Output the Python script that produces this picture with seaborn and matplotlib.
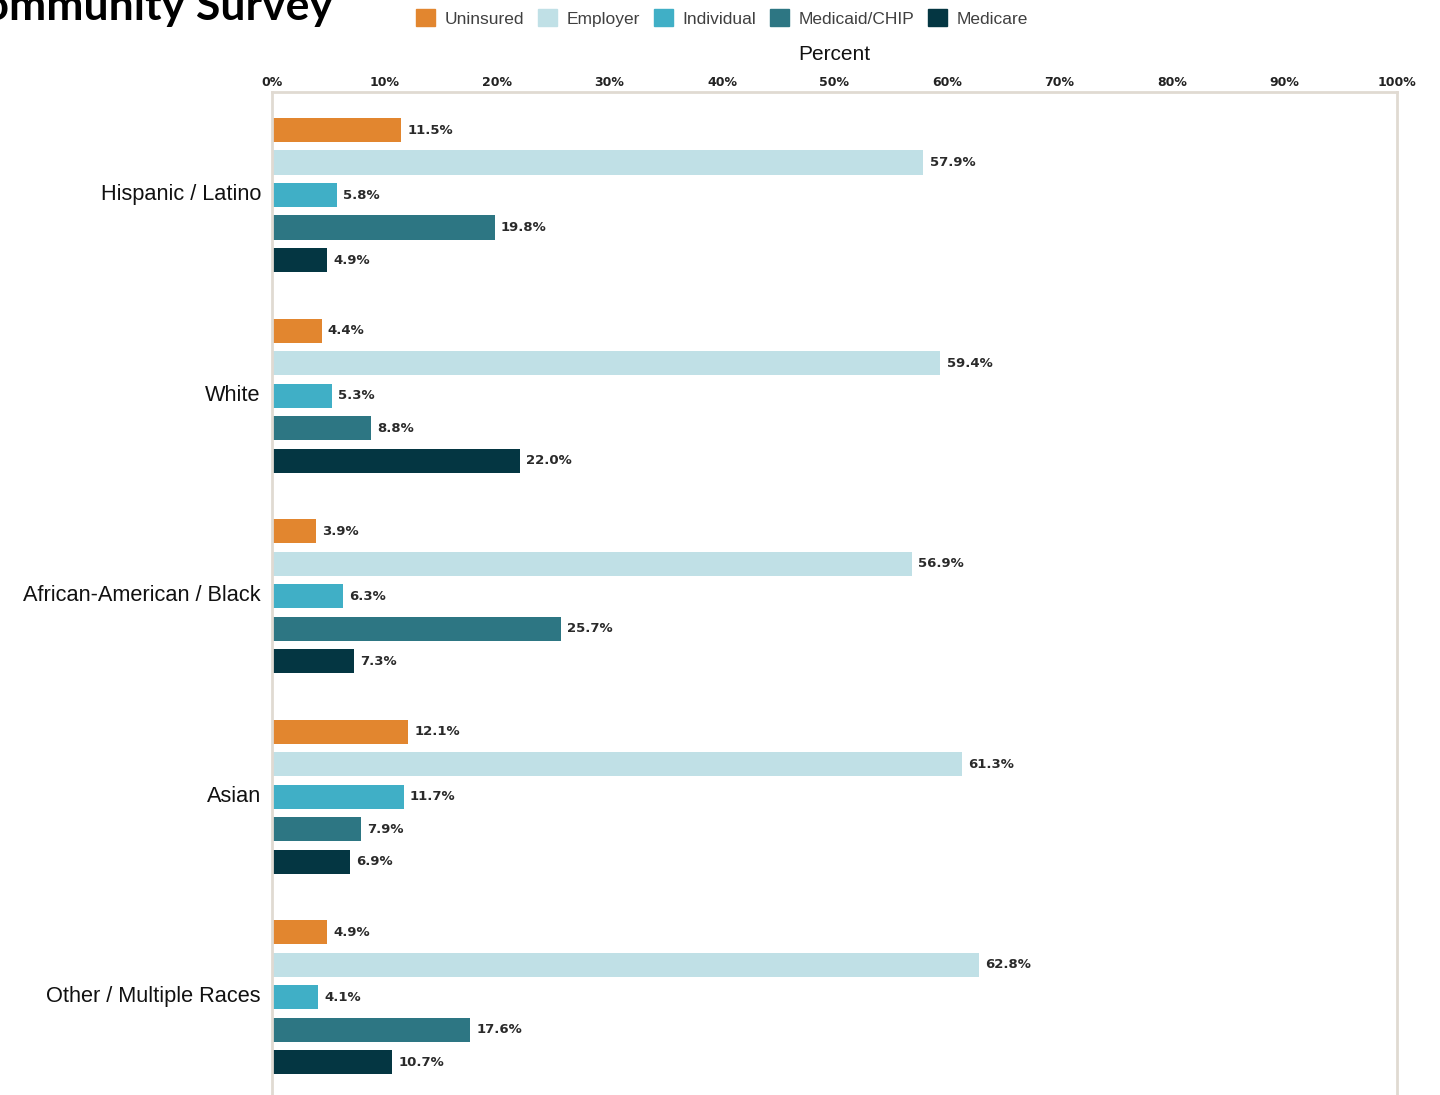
import matplotlib
matplotlib.use("Agg")
import matplotlib.pyplot as plt
import matplotlib.transforms as mtransforms
from matplotlib.patches import Patch
import seaborn as sns
import pandas as pd

# Coverage share by race / ethnicity (percent)
groups = ["Hispanic / Latino", "White", "African-American / Black", "Asian", "Other / Multiple Races"]
coverage_types = ["Uninsured", "Employer", "Individual", "Medicaid/CHIP", "Medicare"]
uninsured = [11.5, 4.4, 3.9, 12.1, 4.9]
employer = [57.9, 59.4, 56.9, 61.3, 62.8]
individual = [5.8, 5.3, 6.3, 11.7, 4.1]
medicaid_chip = [19.8, 8.8, 25.7, 7.9, 17.6]
medicare = [4.9, 22.0, 7.3, 6.9, 10.7]
tick_values = [0, 10, 20, 30, 40, 50, 60, 70, 80, 90, 100]
tick_labels = [f"{t}%" for t in tick_values]

colors = ["#E2862F", "#C0E0E6", "#40AFC6", "#2D7683", "#043642"]

series = [uninsured, employer, individual, medicaid_chip, medicare]
rows = []
for ctype, vals in zip(coverage_types, series):
    for g, v in zip(groups, vals):
        rows.append({"Group": g, "Coverage": ctype, "Percent": v})
df = pd.DataFrame(rows)

sns.set_theme(style="white")
plt.rcParams["font.family"] = ["Liberation Sans", "DejaVu Sans"]

fig = plt.figure(figsize=(14.4, 10.95), dpi=100)
ax = fig.add_axes([272 / 1440, 0.0, (1397 - 272) / 1440, 1 - 92 / 1095])

sns.barplot(
    data=df, y="Group", x="Percent", hue="Coverage",
    order=groups, hue_order=coverage_types, palette=colors,
    orient="h", width=0.81, gap=0.26, dodge=True, ax=ax,
    legend=False, saturation=1, linewidth=0,
)

for cont in ax.containers:
    ax.bar_label(cont, fmt="{:.1f}%", padding=4.5, fontsize=9.5, fontweight="bold",
                 color="#2a2a2a", family="DejaVu Sans")

ax.set_xlim(0, 100)
ax.set_ylim(4.5 - 0.0135, -0.5 - 0.0135)
ax.xaxis.tick_top()
ax.xaxis.set_label_position("top")
ax.set_xticks(tick_values)
ax.set_xticklabels(tick_labels, fontsize=9, fontweight="bold", color="#222222",
                   family="DejaVu Sans")
ax.tick_params(axis="x", length=0, pad=2)
ax.tick_params(axis="y", length=0, pad=8, labelsize=15.7, labelcolor="#111111")

# nudge the group names slightly upward
lift = mtransforms.ScaledTranslation(0, 3 / 100, fig.dpi_scale_trans)
for lbl in ax.get_yticklabels():
    lbl.set_transform(lbl.get_transform() + lift)

ax.set_xlabel("Percent", fontsize=15, color="#111111", labelpad=11.5)
ax.set_ylabel("")

for side in ["top", "left", "right"]:
    ax.spines[side].set_visible(True)
    ax.spines[side].set_color("#E0DAD2")
    ax.spines[side].set_linewidth(2)
ax.spines["bottom"].set_visible(False)

handles = [Patch(facecolor=c, edgecolor=c, label=l) for c, l in zip(colors, coverage_types)]
fig.legend(handles=handles, loc="center", bbox_to_anchor=(722 / 1440, 1 - 18 / 1095),
           ncol=5, frameon=False, fontsize=12.5, handlelength=1.1, handleheight=1.1,
           handletextpad=0.55, columnspacing=0.8, labelcolor="#404040")

fig.text(333 / 1440, 1 - 20 / 1095, "Community Survey", ha="right", va="baseline",
         fontsize=32, fontweight="bold", family=["Lato", "DejaVu Sans"], color="#000000")

fig.savefig("out.png", dpi=100, facecolor="white")
